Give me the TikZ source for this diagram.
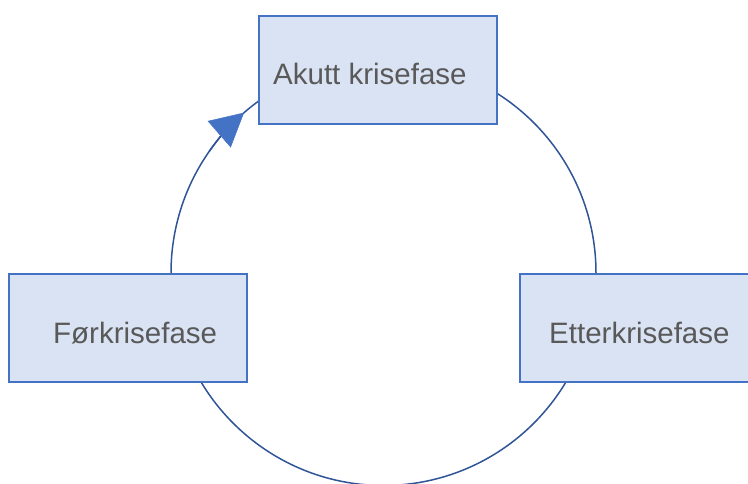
\documentclass[tikz,border=0pt]{standalone}
\usepackage{fontspec}
\setmainfont{Liberation Sans}
\usetikzlibrary{arrows.meta,calc}
\definecolor{boxfill}{RGB}{218,227,243}
\definecolor{boxline}{RGB}{68,114,196}
\definecolor{ringline}{RGB}{47,85,151}
\definecolor{txt}{RGB}{89,89,89}
\tikzset{
  phasebox/.style={draw=boxline, fill=boxfill, line width=2pt, minimum width=238pt, minimum height=108pt, inner sep=0pt},
  phasetext/.style={anchor=base west, inner sep=0pt, text=txt, font=\fontsize{29.5pt}{34pt}\selectfont},
  ring/.style={draw=ringline, line width=1.5pt}
}
\begin{document}
\begin{tikzpicture}[x=1pt,y=-1pt]
\clip (0,0) rectangle (748,484);
\coordinate (c) at (383.5,273);
\draw[ring] (c) circle (212.5pt);
\draw[ring, -{Triangle[length=33pt,width=35pt,color=boxline,fill=boxline,line width=0.5pt]}] ($(c)+(215:212.5)$) arc (215:229:212.5);
\node[phasebox] (akutt) at (378,70.5) {};
\node[phasebox] (for) at (128,328) {};
\node[phasebox] (etter) at (639,328) {};
\node[phasetext] (takutt) at (273,85) {Akutt krisefase};
\node[phasetext] (tfor) at (53,343) {Førkrisefase};
\node[phasetext] (tetter) at (549,343) {Etterkrisefase};
\end{tikzpicture}
\end{document}
